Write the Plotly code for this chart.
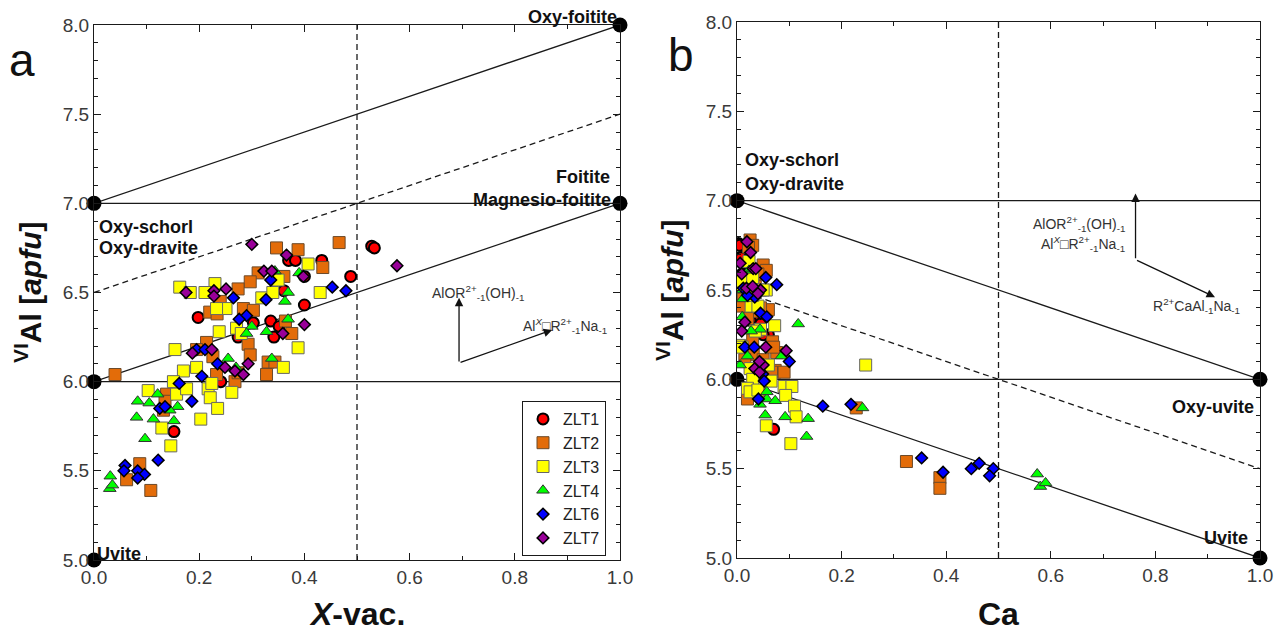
import plotly.graph_objects as go

W, H = 1281, 637

# ---------------- data: (X-vacancy, Ca, VIAl) per analysis ----------------
zlt1_xvac = [0.528, 0.533, 0.488, 0.400, 0.400, 0.433, 0.370, 0.383, 0.198, 0.336, 0.342, 0.352, 0.274, 0.303, 0.361, 0.241, 0.152]
zlt1_ca   = [0.003, 0.005, 0.010, 0.030, 0.020, 0.005, 0.010, 0.008, 0.030, 0.035, 0.060, 0.045, 0.050, 0.025, 0.010, 0.055, 0.070]
zlt1_al   = [6.76, 6.75, 6.59, 6.43, 6.59, 6.68, 6.68, 6.68, 6.36, 6.34, 6.25, 6.31, 6.25, 6.33, 6.51, 6.00, 5.72]

zlt2_xvac = [0.466, 0.347, 0.388, 0.435, 0.312, 0.361, 0.297, 0.274, 0.240, 0.220, 0.234, 0.284, 0.303, 0.364, 0.376, 0.293,
             0.297, 0.214, 0.226, 0.195, 0.233, 0.268, 0.274, 0.331, 0.344, 0.328, 0.040, 0.138, 0.135, 0.132, 0.087, 0.062, 0.108]
zlt2_ca   = [0.025, 0.030, 0.022, 0.050, 0.056, 0.040, 0.010, 0.035, 0.012, 0.060, 0.030, 0.005, 0.045, 0.020, 0.040, 0.068,
             0.076, 0.030, 0.031, 0.070, 0.072, 0.060, 0.073, 0.050, 0.015, 0.066, 0.090, 0.045, 0.020, 0.228, 0.324, 0.388, 0.388]
zlt2_al   = [6.78, 6.75, 6.74, 6.64, 6.61, 6.59, 6.56, 6.52, 6.45, 6.39, 6.38, 6.41, 6.40, 6.34, 6.27, 6.21,
             6.15, 6.22, 6.14, 6.18, 6.04, 6.00, 6.05, 6.11, 6.11, 6.04, 6.04, 5.93, 5.89, 5.84, 5.54, 5.45, 5.39]

zlt3_xvac = [0.163, 0.183, 0.230, 0.211, 0.251, 0.233, 0.319, 0.340, 0.350, 0.407, 0.430, 0.238, 0.271, 0.388, 0.360, 0.154,
             0.170, 0.195, 0.151, 0.103, 0.157, 0.176, 0.217, 0.221, 0.235, 0.203, 0.262, 0.129, 0.146, 0.224, 0.280]
zlt3_ca   = [0.010, 0.045, 0.010, 0.056, 0.027, 0.040, 0.030, 0.020, 0.030, 0.023, 0.050, 0.045, 0.072, 0.005, 0.246, 0.010,
             0.025, 0.060, 0.030, 0.020, 0.025, 0.090, 0.105, 0.093, 0.110, 0.113, 0.040, 0.056, 0.103, 0.065, 0.035]
zlt3_al   = [6.53, 6.50, 6.55, 6.50, 6.41, 6.41, 6.47, 6.50, 6.57, 6.66, 6.50, 6.28, 6.30, 6.19, 6.08, 6.18,
             6.06, 6.08, 6.00, 5.95, 5.93, 5.96, 5.96, 5.91, 5.85, 5.79, 5.94, 5.74, 5.64, 5.99, 6.27]

zlt4_xvac = [0.390, 0.344, 0.369, 0.363, 0.369, 0.300, 0.328, 0.290, 0.255, 0.338, 0.083, 0.081, 0.097, 0.105, 0.121, 0.113,
             0.159, 0.152, 0.144, 0.031, 0.030, 0.035, 0.270]
zlt4_ca   = [0.023, 0.030, 0.011, 0.011, 0.010, 0.117, 0.044, 0.027, 0.085, 0.020, 0.057, 0.054, 0.133, 0.073, 0.057, 0.092,
             0.044, 0.136, 0.240, 0.574, 0.580, 0.590, 0.006]
zlt4_al   = [6.61, 6.62, 6.50, 6.45, 6.35, 6.31, 6.28, 6.27, 6.13, 6.13, 5.89, 5.80, 5.68, 5.88, 5.93, 5.79,
             5.86, 5.78, 5.84, 5.47, 5.40, 5.42, 6.08]

zlt6_xvac = [0.453, 0.479, 0.336, 0.327, 0.265, 0.290, 0.276, 0.195, 0.211, 0.235, 0.205, 0.162, 0.186, 0.125, 0.135,
             0.122, 0.059, 0.057, 0.083, 0.096, 0.083]
zlt6_ca   = [0.076, 0.012, 0.055, 0.034, 0.020, 0.045, 0.057, 0.015, 0.033, 0.100, 0.049, 0.052, 0.041, 0.164, 0.218,
             0.353, 0.463, 0.448, 0.490, 0.394, 0.483]
zlt6_al   = [6.53, 6.51, 6.57, 6.46, 6.47, 6.37, 6.35, 6.18, 6.18, 6.10, 6.03, 5.99, 5.89, 5.85, 5.86,
             5.56, 5.53, 5.50, 5.50, 5.48, 5.46]

zlt7_xvac = [0.300, 0.576, 0.366, 0.398, 0.400, 0.323, 0.338, 0.175, 0.228, 0.228, 0.251, 0.359, 0.187, 0.224, 0.249,
             0.268, 0.284, 0.293]
zlt7_ca   = [0.019, 0.006, 0.026, 0.009, 0.015, 0.031, 0.036, 0.045, 0.018, 0.040, 0.030, 0.009, 0.094, 0.055, 0.050,
             0.034, 0.043, 0.043]
zlt7_al   = [6.77, 6.65, 6.71, 6.59, 6.32, 6.62, 6.62, 6.50, 6.51, 6.48, 6.52, 6.27, 6.16, 6.18, 6.08,
             6.06, 6.04, 6.10]

# end-member compositions (x, VIAl)
endmembers_a_x = [0, 0, 0, 1, 1]
endmembers_a_y = [7, 6, 5, 8, 7]
endmembers_b_x = [0, 0, 1, 1]
endmembers_b_y = [7, 6, 6, 5]

# reference lines: (x0, y0, x1, y1, dash)
lines_a = [(0, 7, 1, 8, 'solid'), (0, 7, 1, 7, 'solid'), (0, 6, 1, 7, 'solid'), (0, 6, 1, 6, 'solid'),
           (0, 6.5, 1, 7.5, 'dash'), (0.5, 5, 0.5, 8, 'dash')]
lines_b = [(0, 7, 1, 7, 'solid'), (0, 7, 1, 6, 'solid'), (0, 6, 1, 6, 'solid'), (0, 6, 1, 5, 'solid'),
           (0, 6.5, 1, 5.5, 'dash'), (0.5, 5, 0.5, 8, 'dash')]

series = [
    ('ZLT1', zlt1_xvac, zlt1_ca, zlt1_al, dict(symbol='circle', size=11, color='#FF0000', line=dict(color='#000000', width=2))),
    ('ZLT2', zlt2_xvac, zlt2_ca, zlt2_al, dict(symbol='square', size=12, color='#E36C09', line=dict(color='#6b4a2a', width=1))),
    ('ZLT3', zlt3_xvac, zlt3_ca, zlt3_al, dict(symbol='square', size=12, color='#FFFF00', line=dict(color='#666666', width=1))),
    ('ZLT4', zlt4_xvac, zlt4_ca, zlt4_al, dict(symbol='triangle-up', size=11, color='#00FF00', line=dict(color='#333333', width=1))),
    ('ZLT6', zlt6_xvac, zlt6_ca, zlt6_al, dict(symbol='diamond', size=9, color='#0000FF', line=dict(color='#000000', width=1.5))),
    ('ZLT7', zlt7_xvac, zlt7_ca, zlt7_al, dict(symbol='diamond', size=9, color='#990099', line=dict(color='#000000', width=1.5))),
]

fig = go.Figure()

LINE_COL = '#1a1a1a'
for (x0, y0, x1, y1, d) in lines_a:
    fig.add_trace(go.Scatter(x=[x0, x1], y=[y0, y1], mode='lines', xaxis='x', yaxis='y', showlegend=False,
                             hoverinfo='skip', line=dict(color=LINE_COL, width=1.3, dash=('6px,4px' if d == 'dash' else 'solid'))))
for (x0, y0, x1, y1, d) in lines_b:
    fig.add_trace(go.Scatter(x=[x0, x1], y=[y0, y1], mode='lines', xaxis='x2', yaxis='y2', showlegend=False,
                             hoverinfo='skip', line=dict(color=LINE_COL, width=1.3, dash=('6px,4px' if d == 'dash' else 'solid'))))

fig.add_trace(go.Scatter(x=endmembers_a_x, y=endmembers_a_y, mode='markers', xaxis='x', yaxis='y', showlegend=False,
                         cliponaxis=False, marker=dict(color='black', size=15)))
fig.add_trace(go.Scatter(x=endmembers_b_x, y=endmembers_b_y, mode='markers', xaxis='x2', yaxis='y2', showlegend=False,
                         cliponaxis=False, marker=dict(color='black', size=15)))

for name, xv, ca, al, mk in series:
    fig.add_trace(go.Scatter(x=xv, y=al, mode='markers', name=name, legendgroup=name, xaxis='x', yaxis='y',
                             marker=mk))
for name, xv, ca, al, mk in series:
    fig.add_trace(go.Scatter(x=ca, y=al, mode='markers', name=name, legendgroup=name, xaxis='x2', yaxis='y2',
                             marker=mk, showlegend=False))

tickfont = dict(family='Liberation Sans, Arial, sans-serif', size=19, color='#3a3a3a')
def xax(dom, anchor):
    return dict(domain=dom, anchor=anchor, range=[0, 1], showline=True, linecolor=LINE_COL, linewidth=1.3,
                mirror='allticks', ticks='inside', ticklen=7, tickwidth=1.2, tickcolor=LINE_COL, tick0=0, dtick=0.2,
                tickformat='.1f', showgrid=False, zeroline=False, tickfont=tickfont, automargin=False,
                minor=dict(ticks='inside', ticklen=4, dtick=0.1, tickcolor=LINE_COL, showgrid=False))
def yax(dom, anchor):
    return dict(domain=dom, anchor=anchor, range=[5, 8], showline=True, linecolor=LINE_COL, linewidth=1.3,
                mirror='allticks', ticks='inside', ticklen=7, tickwidth=1.2, tickcolor=LINE_COL, tick0=5, dtick=0.5,
                tickformat='.1f', showgrid=False, zeroline=False, tickfont=tickfont, automargin=False,
                minor=dict(ticks='inside', ticklen=4, dtick=0.1, tickcolor=LINE_COL, showgrid=False))

ax_a = (94, 620, 25, 560)
ax_b = (737, 1260, 22, 558)

fig.update_layout(
    width=W, height=H, margin=dict(l=0, r=0, t=0, b=0, pad=0, autoexpand=False),
    paper_bgcolor='white', plot_bgcolor='white',
    xaxis=xax([ax_a[0] / W, ax_a[1] / W], 'y'),
    yaxis=yax([1 - ax_a[3] / H, 1 - ax_a[2] / H], 'x'),
    xaxis2=xax([ax_b[0] / W, ax_b[1] / W], 'y2'),
    yaxis2=yax([1 - ax_b[3] / H, 1 - ax_b[2] / H], 'x2'),
    legend=dict(x=606 / W, y=1 - 401 / H, xanchor='right', yanchor='top', bgcolor='white', bordercolor=LINE_COL,
                borderwidth=1, font=dict(family='Liberation Sans, Arial, sans-serif', size=16, color='#222'),
                itemwidth=30, tracegroupgap=0),
    showlegend=True,
)

ann = []
BOLD = dict(family='Liberation Sans, Arial, sans-serif', size=18, color='#111')
def lab(text, x, y, ref='', xanchor='left', font=BOLD):
    ann.append(dict(text=text, x=x, y=y, xref='x' + ref, yref='y' + ref, xanchor=xanchor, yanchor='middle',
                    showarrow=False, font=font))

def paper(text, px, py, font, angle=0, xanchor='center'):
    ann.append(dict(text=text, x=px / W, y=1 - py / H, xref='paper', yref='paper', xanchor=xanchor, yanchor='middle',
                    showarrow=False, font=font, textangle=angle))

# panel a labels
paper('<b>Oxy-foitite</b>', 619, 17, BOLD, 0, 'right')
lab('<b>Foitite</b>', 0.985, 7.15, '', 'right')
lab('<b>Magnesio-foitite</b>', 0.987, 7.02, '', 'right')
lab('<b>Oxy-schorl</b>', 0.006, 6.87, '', 'left')
lab('<b>Oxy-dravite</b>', 0.006, 6.75, '', 'left')
lab('<b>Schorl</b>', -0.011, 5.864, '', 'right')
lab('<b>Dravite</b>', -0.011, 5.735, '', 'right')
lab('<b>Uvite</b>', 0.002, 5.034, '', 'left')
# panel b labels
lab('<b>Oxy-schorl</b>', 0.011, 7.227, '2', 'left')
lab('<b>Oxy-dravite</b>', 0.011, 7.093, '2', 'left')
lab('<b>Schorl</b>', -0.013, 5.862, '2', 'right')
lab('<b>Dravite</b>', -0.013, 5.733, '2', 'right')
lab('<b>Oxy-uvite</b>', 0.992, 5.847, '2', 'right')
lab('<b>Uvite</b>', 0.981, 5.112, '2', 'right')

SMALL = dict(family='Liberation Sans, Arial, sans-serif', size=14, color='#333')
t_oh = 'AlOR<sup>2+</sup><sub>-1</sub>(OH)<sub>-1</sub>'
t_x = 'Al<sup><i>X</i></sup>\u25a1R<sup>2+</sup><sub>-1</sub>Na<sub>-1</sub>'
t_ca = 'R<sup>2+</sup>CaAl<sub>-1</sub>Na<sub>-1</sub>'
lab(t_oh, 0.638, 6.50, '', 'left', SMALL)
lab(t_x, 0.811, 6.31, '', 'left', SMALL)
lab(t_oh, 0.745, 6.87, '2', 'right', SMALL)
lab(t_x, 0.745, 6.76, '2', 'right', SMALL)
lab(t_ca, 0.878, 6.41, '2', 'center', SMALL)

# arrows
def arrow(x0, y0, x1, y1, ref=''):
    ann.append(dict(x=x1, y=y1, ax=x0, ay=y0, xref='x' + ref, yref='y' + ref, axref='x' + ref, ayref='y' + ref,
                    text='', showarrow=True, arrowhead=2, arrowsize=1.3, arrowwidth=1.3, arrowcolor='#111'))
arrow(0.694, 6.105, 0.694, 6.47)
arrow(0.694, 6.105, 0.871, 6.29)
arrow(0.762, 6.67, 0.762, 7.04, '2')
arrow(0.762, 6.67, 0.914, 6.46, '2')

# axis titles and panel letters (paper coords from pixel positions)
TITLE = dict(family='Liberation Sans, Arial, sans-serif', size=30, color='#111')
paper('<b><sup>VI</sup>Al [<i>apfu</i>]</b>', 28, 292, TITLE, -90)
paper('<b><sup>VI</sup>Al [<i>apfu</i>]</b>', 670, 290, TITLE, -90)
paper('<b><i>X</i>-vac.</b>', 357, 614, dict(family='Liberation Sans, Arial, sans-serif', size=32, color='#111'))
paper('<b>Ca</b>', 998, 614, dict(family='Liberation Sans, Arial, sans-serif', size=32, color='#111'))
LET = dict(family='Liberation Sans, Arial, sans-serif', size=46, color='#111')
paper('a', 22, 60, LET)
paper('b', 681, 55, LET)

fig.update_layout(annotations=ann)
fig.write_html('out.html')
